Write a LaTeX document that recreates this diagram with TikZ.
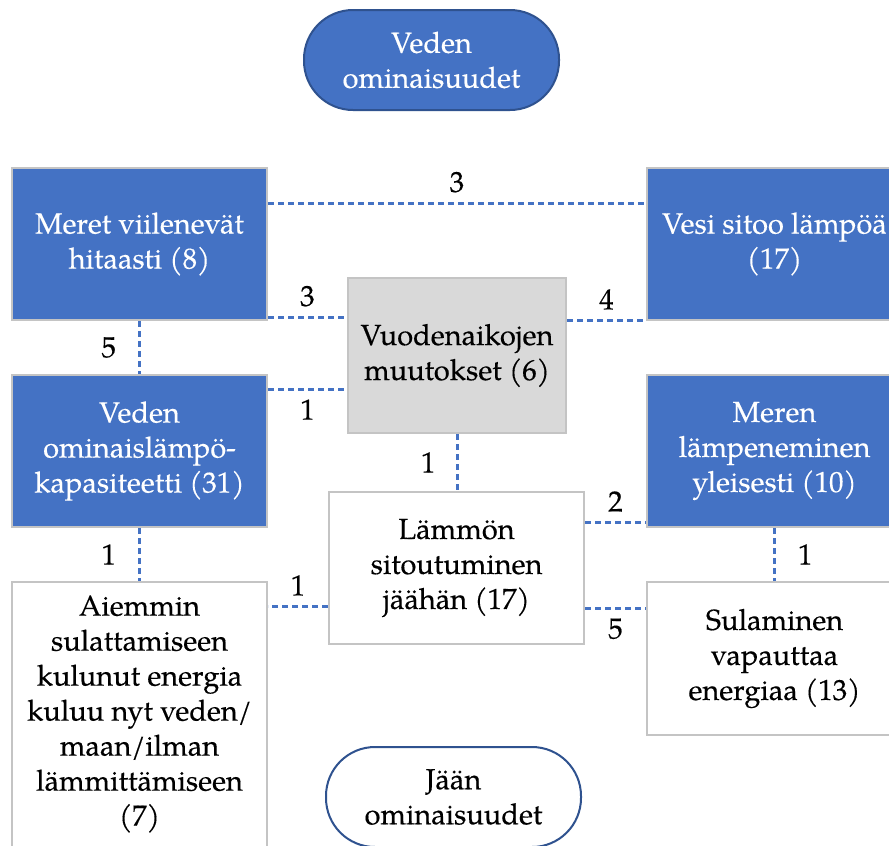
\documentclass[tikz,border=0pt]{standalone}
\usepackage{fontspec}
\setmainfont{TeX Gyre Pagella}[FakeBold=0.3]
\newfontfamily\pfont{TeX Gyre Pagella}[FakeBold=0.3]
\definecolor{blu}{HTML}{4472C4}
\definecolor{dblu}{HTML}{2F528F}
\definecolor{bord}{HTML}{C4C4C4}
\definecolor{gfill}{HTML}{D9D9D9}
\begin{document}
\begin{tikzpicture}[x=1pt,y=-1pt,
  txt/.style={font=\pfont\fontsize{29}{35}\selectfont, align=center},
  bluebox/.style={txt, draw=bord, line width=2pt, fill=blu, text=white, minimum width=255pt, minimum height=152pt, inner sep=0pt},
  whitebox/.style={txt, draw=bord, line width=2pt, fill=white, minimum width=255pt, minimum height=152pt, inner sep=0pt},
  pill/.style={txt, draw=dblu, line width=2pt, rounded corners=49pt, minimum width=255pt, minimum height=100pt, inner sep=0pt},
  conn/.style={draw=blu, line width=3pt, dash pattern=on 6pt off 4pt},
  lab/.style={font=\pfont\fontsize{29}{30}\selectfont, inner sep=0pt}]
\useasboundingbox (0,0) rectangle (889,846);
\fill[white] (0,0) rectangle (889,846);
% nodes
\node[pill, fill=blu, text=white] (top) at (431.5,60) {Veden\\ominaisuudet};
\node[bluebox] (meret) at (139.5,244) {Meret viilenevät\\hitaasti (8)};
\node[bluebox] (vesi) at (774.5,244) {Vesi sitoo lämpöä\\(17)};
\node[whitebox, fill=gfill, minimum width=218pt, minimum height=155pt] (gray) at (457,355.5) {Vuodenaikojen\\muutokset (6)};
\node[bluebox] (veden) at (139.5,451) {Veden\\ominaislämpö-\\kapasiteetti (31)};
\node[bluebox] (meren) at (774.5,451) {Meren\\lämpeneminen\\yleisesti (10)};
\node[whitebox] (lammon) at (456.5,568) {Lämmön\\sitoutuminen\\jäähän (17)};
\node[whitebox, minimum height=290pt] (aiemmin) at (139.5,727) {};
\node[txt] (aiemmintxt) at (139.5,714) {Aiemmin\\sulattamiseen\\kulunut energia\\kuluu nyt veden/\\maan/ilman\\lämmittämiseen\\(7)};
\node[whitebox, minimum height=153pt] (sul) at (774.5,658.5) {Sulaminen\\vapauttaa\\energiaa (13)};
\node[pill, fill=white] (jaan) at (453.5,797) {Jään\\ominaisuudet};
% connectors
\draw[conn] ([yshift=41pt]meret.east) -- node[lab, above=9pt] (l1) {3} ([yshift=41pt]vesi.west);
\draw[conn] ([yshift=-73pt]meret.east) -- node[lab, above=9pt] (l2) {3} ([yshift=38.5pt]gray.west);
\draw[conn] ([yshift=35.5pt]gray.east) -- node[lab, above=9pt] (l3) {4} ([yshift=-76pt]vesi.west);
\draw[conn] (meret.south) -- node[lab, left=22pt] (l4) {5} (veden.north);
\draw[conn] ([yshift=62pt]veden.east) -- node[lab, below=9pt] (l5) {1} ([yshift=-33.5pt]gray.west);
\draw[conn] (gray.south) -- node[lab, left=20pt] (l6) {1} (gray.south |- lammon.north);
\draw[conn] ([yshift=46pt]lammon.east) -- node[lab, above=9pt] (l7) {2} ([yshift=-71pt]meren.west);
\draw[conn] ([yshift=-40pt]lammon.east) -- node[lab, below=9pt] (l8) {5} ([yshift=50.5pt]sul.west);
\draw[conn] (meren.south) -- node[lab, right=22pt] (l9) {1} (sul.north);
\draw[conn] (veden.south) -- node[lab, left=22pt] (l10) {1} (aiemmin.north);
\draw[conn] ([yshift=-38pt]lammon.west) coordinate (c11) -- node[lab, above=9pt] (l11) {1} (aiemmin.east |- c11);
\end{tikzpicture}
\end{document}
